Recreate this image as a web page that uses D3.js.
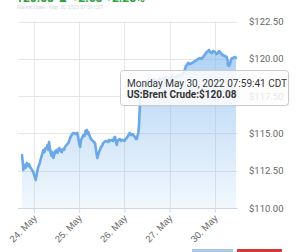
<!DOCTYPE html>
<html>
<head>
<meta charset="utf-8">
<script src="https://cdn.jsdelivr.net/npm/d3@7"></script>
<style>
  html, body { margin: 0; padding: 0; background: #fff; overflow: hidden; }
  svg { display: block; font-family: Roboto, "Liberation Sans", Arial, sans-serif; }
</style>
</head>
<body>
<svg id="chart" width="300" height="252"></svg>
<script>
// --- DATA ---
// x = trading-day offset on a gapless axis (0 = 24. May), y = price in USD
const dayTicks = [0, 1, 2, 3, 4];
const dayLabels = ["24. May", "25. May", "26. May", "27. May", "30. May"];
const priceTicks = [110, 112.5, 115, 117.5, 120, 122.5];

const dayOffsets = [
  -0.265, -0.250, -0.237, -0.210, -0.188, -0.162, -0.133, -0.111, -0.088, -0.055,
  -0.015, 0.011, 0.038, 0.055, 0.077, 0.095, 0.122, 0.133, 0.155, 0.177,
  0.206, 0.232, 0.254, 0.281, 0.299, 0.314, 0.332, 0.350, 0.369, 0.387,
  0.405, 0.427, 0.454, 0.476, 0.502, 0.520, 0.538, 0.560, 0.586, 0.613,
  0.637, 0.664, 0.686, 0.719, 0.759, 0.785, 0.808, 0.834, 0.863, 0.885,
  0.918, 0.958, 0.980, 0.996, 1.018, 1.040, 1.062, 1.091, 1.117, 1.139,
  1.166, 1.184, 1.201, 1.223, 1.250, 1.277, 1.305, 1.327, 1.350, 1.372,
  1.400, 1.427, 1.445, 1.460, 1.482, 1.504, 1.533, 1.560, 1.582, 1.608,
  1.637, 1.659, 1.681, 1.719, 1.748, 1.770, 1.792, 1.810, 1.830, 1.847,
  1.865, 1.903, 1.925, 1.947, 1.976, 2.002, 2.024, 2.051, 2.080, 2.102,
  2.124, 2.146, 2.184, 2.212, 2.235, 2.257, 2.272, 2.290, 2.307, 2.323,
  2.338, 2.354, 2.367, 2.389, 2.456, 2.522, 2.588, 2.655, 2.721, 2.788,
  2.854, 2.920, 2.987, 3.053, 3.119, 3.186, 3.252, 3.319, 3.363, 3.385,
  3.407, 3.451, 3.496, 3.529, 3.562, 3.600, 3.628, 3.673, 3.706, 3.739,
  3.772, 3.805, 3.821, 3.850, 3.872, 3.894, 3.931, 3.960, 4.004, 4.038,
  4.071, 4.093, 4.115, 4.148, 4.181, 4.215, 4.263, 4.281, 4.292, 4.314,
  4.336, 4.358, 4.381, 4.403, 4.436, 4.469
];

const prices = [
  113.55, 113.08, 112.55, 112.88, 112.68, 113.02, 112.81, 112.95, 112.75, 112.61,
  112.41, 112.14, 111.88, 112.14, 112.55, 112.75, 112.95, 113.08, 113.35, 113.55,
  113.89, 113.75, 114.02, 114.02, 114.22, 113.89, 114.42, 114.02, 113.69, 113.49,
  113.75, 113.35, 113.62, 113.82, 113.89, 113.69, 113.95, 114.02, 113.82, 113.75,
  113.95, 113.89, 114.09, 114.22, 114.36, 114.56, 114.76, 114.89, 115.03, 115.03,
  114.96, 115.03, 114.69, 114.36, 114.09, 114.56, 114.69, 114.89, 114.83, 115.16,
  115.23, 114.96, 115.09, 114.89, 114.69, 114.56, 114.49, 114.42, 114.36, 113.89,
  113.35, 113.62, 113.82, 113.89, 114.09, 114.16, 114.36, 114.42, 114.49, 114.49,
  114.42, 114.56, 114.49, 114.56, 114.49, 114.69, 114.76, 114.49, 114.22, 114.49,
  114.56, 114.62, 114.49, 114.56, 114.56, 114.49, 114.62, 114.69, 114.83, 114.96,
  115.03, 114.89, 114.96, 114.83, 114.76, 114.62, 114.62, 114.83, 115.03, 115.56,
  116.57, 117.57, 118.04, 118.18, 118.31, 118.58, 118.38, 118.65, 118.45, 118.71,
  118.58, 118.78, 118.65, 118.85, 118.71, 118.91, 118.85, 119.11, 119.52, 119.58,
  119.72, 119.65, 119.72, 119.78, 119.85, 119.92, 119.99, 120.05, 119.99, 120.12,
  120.25, 120.39, 120.46, 120.52, 120.59, 120.46, 120.39, 120.52, 120.46, 120.32,
  120.39, 120.52, 120.46, 120.32, 120.25, 120.19, 120.12, 119.92, 119.58, 119.52,
  119.65, 119.92, 120.05, 120.05, 120.12, 120.08
];

const tooltipLines = ["Monday May 30, 2022 07:59:41 CDT", "US:Brent Crude:$120.08"];

// --- RENDER ---
function renderPriceChart() {
    const svg = d3.select("#chart");
    svg.selectAll("*").remove();

    const plotLeft = 20, plotRight = 237.4, plotTop = 21.5, plotBottom = 208;
    const formatPrice = d => "$" + d.toFixed(2);

    const data = dayOffsets.map((t, i) => ({ t: t, value: prices[i] }));

    const x = d3.scaleLinear().domain([-0.31, 4.5]).range([plotLeft, plotRight]);
    const y = d3.scaleLinear().domain([110, 122.5]).range([plotBottom, plotTop]);

    // header, scrolled mostly out of view at the top
    svg.append("text")
        .attr("x", 16).attr("y", 1.5)
        .attr("fill", "#2e9e3e").attr("font-size", 12).attr("font-weight", "bold")
        .text("120.08  ▲ +2.68  +2.28%");
    svg.append("text")
        .attr("x", 17).attr("y", 8.5)
        .attr("fill", "#d3d7db").attr("font-size", 5)
        .text("Market Open   ·   May 30, 2022 07:59 CDT");

    // horizontal grid + right axis labels
    const yAxis = svg.append("g");
    yAxis.selectAll("line").data(priceTicks).join("line")
        .attr("x1", plotLeft - 2).attr("x2", plotRight)
        .attr("y1", d => Math.round(y(d)) + 0.5).attr("y2", d => Math.round(y(d)) + 0.5)
        .attr("stroke", "#e6e6e6").attr("stroke-width", 1);
    yAxis.selectAll("text").data(priceTicks).join("text")
        .attr("x", 249).attr("y", d => y(d) + 3.5)
        .attr("fill", "#666").attr("font-size", 9.5)
        .text(formatPrice);

    // vertical grid
    svg.append("g").selectAll("line").data(dayTicks).join("line")
        .attr("x1", d => Math.round(x(d)) + 0.5).attr("x2", d => Math.round(x(d)) + 0.5)
        .attr("y1", plotTop).attr("y2", plotBottom)
        .attr("stroke", "#e6e6e6").attr("stroke-width", 1);

    // gradient area + line
    const defs = svg.append("defs");
    const grad = defs.append("linearGradient")
        .attr("id", "areaFill").attr("gradientUnits", "userSpaceOnUse")
        .attr("x1", 0).attr("x2", 0).attr("y1", plotTop).attr("y2", plotBottom);
    grad.append("stop").attr("offset", 0).attr("stop-color", "#7cb5ec").attr("stop-opacity", 0.7);
    grad.append("stop").attr("offset", 1).attr("stop-color", "#7cb5ec").attr("stop-opacity", 0.1);

    const area = d3.area().x(d => x(d.t)).y0(plotBottom).y1(d => y(d.value));
    const line = d3.line().x(d => x(d.t)).y(d => y(d.value));

    svg.append("path").datum(data)
        .attr("fill", "url(#areaFill)")
        .attr("d", area);
    svg.append("path").datum(data)
        .attr("fill", "none")
        .attr("stroke", "#6aa8e8")
        .attr("stroke-width", 2.6)
        .attr("stroke-linejoin", "round")
        .attr("stroke-linecap", "round")
        .attr("d", line);

    // bottom axis
    const xAxis = svg.append("g")
        .attr("transform", `translate(0,${plotBottom})`)
        .call(d3.axisBottom(x).tickValues(dayTicks).tickSize(5).tickFormat((d, i) => dayLabels[i]));
    xAxis.select(".domain").attr("d", `M${plotLeft - 2},0.5H${plotRight}`).attr("stroke", "#ccd6eb");
    xAxis.selectAll(".tick line").attr("stroke", "#ccd6eb");
    xAxis.selectAll(".tick text")
        .attr("fill", "#666").attr("font-size", 9.5)
        .attr("font-family", null)
        .attr("text-anchor", "end")
        .attr("dy", null).attr("y", 0)
        .attr("transform", "translate(3,11) rotate(-45)");

    // tooltip
    const tip = svg.append("g").attr("transform", "translate(120,70)");
    tip.append("rect")
        .attr("x", 0.5).attr("y", 0.5).attr("width", 168).attr("height", 35).attr("rx", 3)
        .attr("fill", "#000").attr("opacity", 0.05).attr("transform", "translate(1,1)");
    tip.append("rect")
        .attr("x", 0.5).attr("y", 0.5).attr("width", 168).attr("height", 35).attr("rx", 3)
        .attr("fill", "rgba(255,255,255,0.85)").attr("stroke", "#c8ccd0");
    tip.selectAll("text").data(tooltipLines).join("text")
        .attr("x", 7).attr("y", (d, i) => 16.5 + i * 11)
        .attr("fill", "#333").attr("font-size", 10)
        .attr("font-weight", (d, i) => i ? "bold" : null)
        .text(d => d);

    // bottom buttons (cut off)
    svg.append("rect").attr("x", 192).attr("y", 249).attr("width", 41).attr("height", 10).attr("fill", "#a9c9e2");
    svg.append("rect").attr("x", 237).attr("y", 249).attr("width", 45).attr("height", 10).attr("fill", "#d7373a");
}

renderPriceChart();
</script>
</body>
</html>
